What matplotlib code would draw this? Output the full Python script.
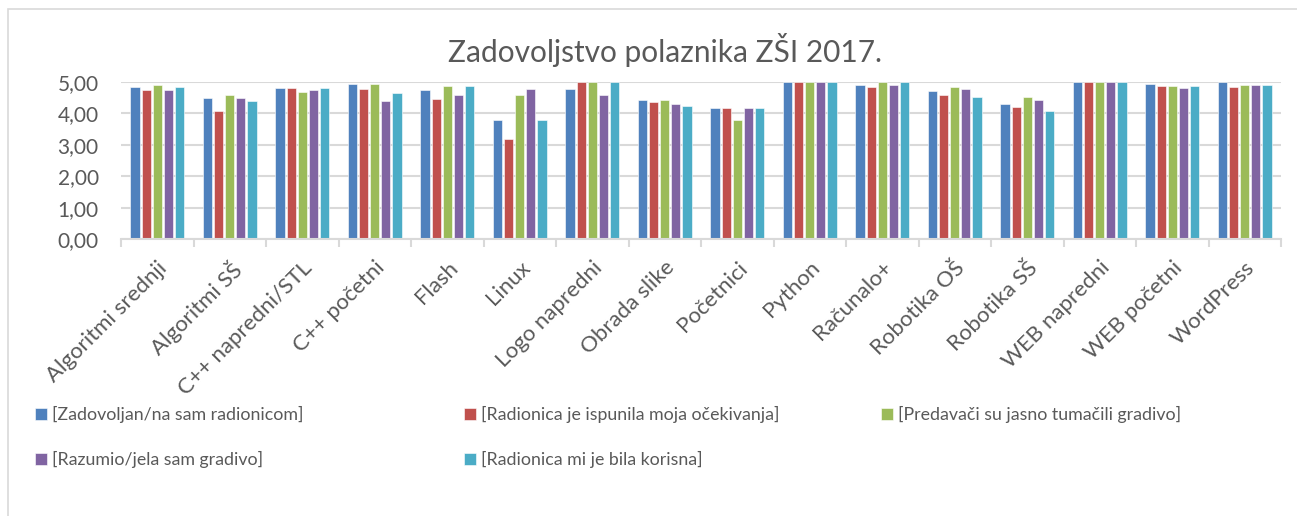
import numpy as np
import matplotlib.pyplot as plt
from matplotlib.patches import Rectangle

plt.rcParams['font.family'] = ['Lato', 'DejaVu Sans']

# workshops
categories = ['Algoritmi srednji', 'Algoritmi SŠ', 'C++ napredni/STL', 'C++ početni',
              'Flash', 'Linux', 'Logo napredni', 'Obrada slike', 'Početnici',
              'Python', 'Računalo+', 'Robotika OŠ', 'Robotika SŠ', 'WEB napredni',
              'WEB početni', 'WordPress']

zadovoljan = [4.83, 4.48, 4.81, 4.93, 4.76, 3.79, 4.79, 4.42, 4.18, 5.00, 4.90, 4.72, 4.31, 5.00, 4.93, 5.00]
ocekivanja = [4.75, 4.07, 4.81, 4.79, 4.45, 3.18, 5.00, 4.36, 4.18, 5.00, 4.84, 4.58, 4.22, 5.00, 4.87, 4.84]
predavaci = [4.92, 4.58, 4.67, 4.93, 4.87, 4.59, 5.00, 4.42, 3.79, 5.00, 5.00, 4.83, 4.53, 5.00, 4.87, 4.90]
razumio = [4.75, 4.48, 4.75, 4.39, 4.58, 4.79, 4.59, 4.30, 4.18, 5.00, 4.90, 4.78, 4.44, 5.00, 4.81, 4.90]
korisna = [4.83, 4.40, 4.81, 4.65, 4.87, 3.79, 5.00, 4.24, 4.18, 5.00, 5.00, 4.52, 4.09, 5.00, 4.87, 4.90]

series = [zadovoljan, ocekivanja, predavaci, razumio, korisna]
labels = ['[Zadovoljan/na sam radionicom]', '[Radionica je ispunila moja očekivanja]',
          '[Predavači su jasno tumačili gradivo]', '[Razumio/jela sam gradivo]',
          '[Radionica mi je bila korisna]']
colors = ['#4F81BD', '#C0504D', '#9BBB59', '#8064A2', '#4BACC6']
text_col = '#595959'

fig = plt.figure(figsize=(12.97, 5.16), dpi=100)
fig.patches.append(Rectangle((8 / 1297, -0.1), 1.2, 0.1 + 1 - 9 / 516, transform=fig.transFigure,
                             fill=False, edgecolor='#D9D9D9', linewidth=1.2))
ax = fig.add_axes([121 / 1297, 1 - 239.5 / 516, (1281 - 121) / 1297, (239.5 - 82) / 516])

x = np.arange(len(categories))
pitch = 0.152
handles = []
for i, vals in enumerate(series):
    b = ax.bar(x + (i - 2) * pitch, vals, 0.13, color=colors[i], edgecolor='white', linewidth=0.4,
               label=labels[i], zorder=3)
    handles.append(b)

ax.set_xlim(-0.5, len(categories) - 0.5)
ax.set_ylim(0, 5)
ax.set_yticks(np.arange(0, 5.01, 1))
ax.yaxis.set_major_formatter(plt.FuncFormatter(lambda v, p: ('%.2f' % v).replace('.', ',')))
ax.grid(axis='y', color='#D9D9D9', linewidth=1.5, zorder=0)
for s in ['top', 'right', 'left']:
    ax.spines[s].set_visible(False)
ax.spines['bottom'].set_color('#D9D9D9')
ax.spines['bottom'].set_linewidth(1.5)
ax.spines['bottom'].set_zorder(4)

ax.set_xticks(x)
ax.set_xticklabels(categories, rotation=45, ha='right', rotation_mode='anchor')
ax.set_xticks(np.arange(-0.5, len(categories), 1), minor=True)
ax.tick_params(axis='x', which='major', length=0, pad=13, labelsize=16, labelcolor=text_col)
ax.tick_params(axis='x', which='minor', length=6, width=1.5, color='#D9D9D9')
ax.tick_params(axis='y', length=0, pad=16, labelsize=15, labelcolor=text_col)

fig.text(0.513, 1 - 50 / 516, 'Zadovoljstvo polaznika ZŠI 2017.', ha='center', va='center',
         fontsize=21.5, color=text_col)

# legend: three fixed columns like Excel
col_x = [35, 464, 881]
cols = [[0, 3], [1, 4], [2]]
for cx, idx in zip(col_x, cols):
    leg = fig.legend([handles[i] for i in idx], [labels[i] for i in idx],
                     loc='upper left', bbox_to_anchor=(cx / 1297, 1 - 406 / 516), frameon=False,
                     fontsize=12.8, handlelength=0.7, handleheight=0.7, handletextpad=0.25,
                     labelspacing=1.6, borderaxespad=0, borderpad=0)
    for t in leg.get_texts():
        t.set_color(text_col)

fig.savefig('out.png', dpi=100)
